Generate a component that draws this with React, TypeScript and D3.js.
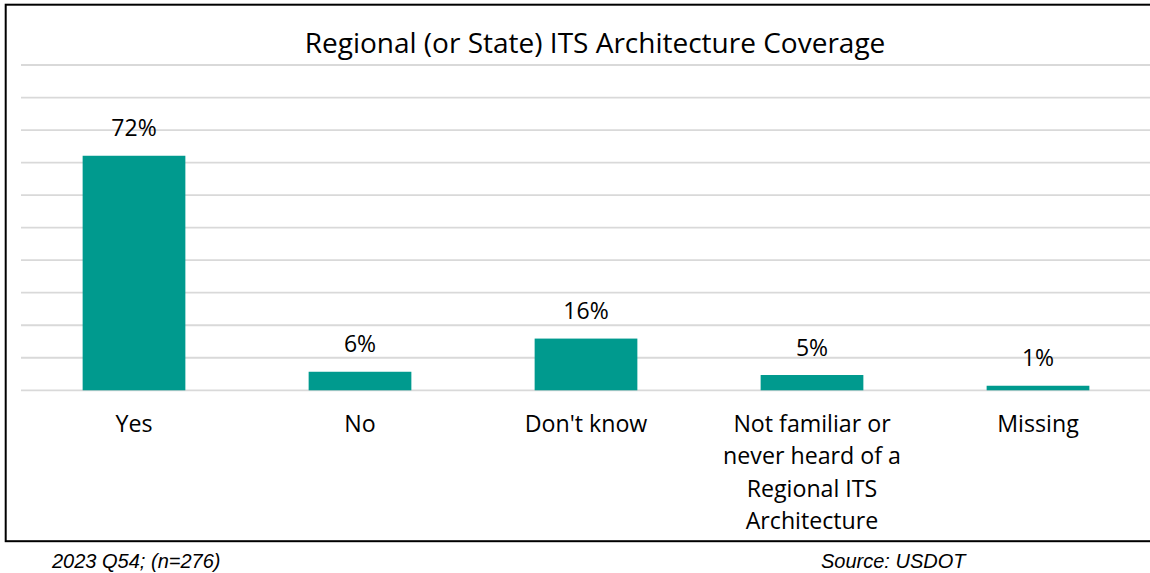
import React from "react";
import * as d3 from "d3";

const categories: string[][] = [
  ["Yes"],
  ["No"],
  ["Don't know"],
  ["Not familiar or", "never heard of a", "Regional ITS", "Architecture"],
  ["Missing"],
];
const categoryKeys = ["Yes", "No", "Don't know", "Not familiar", "Missing"];
const values = [0.721, 0.057, 0.159, 0.047, 0.014];
const labels = ["72%", "6%", "16%", "5%", "1%"];
const yTicks = [0, 0.1, 0.2, 0.3, 0.4, 0.5, 0.6, 0.7, 0.8, 0.9, 1.0];
const title = "Regional (or State) ITS Architecture Coverage";
const noteLeft = "2023 Q54; (n=276)";
const noteRight = "Source: USDOT";

const W = 1150;
const H = 573;
const plotLeft = 21;
const plotRight = 1151;
const plotTop = 65;
const plotBottom = 390.3;

export default function App() {
  const x = d3
    .scaleBand<string>()
    .domain(categoryKeys)
    .range([plotLeft, plotRight])
    .paddingInner(1.2 / 2.2)
    .paddingOuter(0.6 / 2.2);
  const y = d3.scaleLinear().domain([0, 1]).range([plotBottom, plotTop]);
  const font = "'Open Sans', sans-serif";
  const band = (plotRight - plotLeft) / categoryKeys.length;

  return (
    <svg
      width={W}
      height={H}
      style={{ position: "absolute", left: 0, top: 0, background: "#fff" }}
    >
      <rect x={0} y={0} width={W} height={H} fill="#fff" />
      <rect
        x={5.7}
        y={4.7}
        width={1160}
        height={536.5}
        fill="none"
        stroke="#000"
        strokeWidth={2}
      />
      <text
        x={595}
        y={53.3}
        textAnchor="middle"
        fontFamily={font}
        fontSize={28}
        fill="#000"
      >
        {title}
      </text>
      {yTicks.map((t) => (
        <line
          key={t}
          x1={plotLeft}
          x2={W}
          y1={y(t)}
          y2={y(t)}
          stroke="#D9D9D9"
          strokeWidth={1.8}
        />
      ))}
      {categoryKeys.map((k, i) => (
        <g key={k}>
          <rect
            x={x(k)}
            y={y(values[i])}
            width={x.bandwidth()}
            height={plotBottom - y(values[i])}
            fill="#009A8E"
          />
          <text
            x={(x(k) as number) + x.bandwidth() / 2}
            y={y(values[i]) - 19.5}
            textAnchor="middle"
            fontFamily={font}
            fontSize={23}
            fill="#000"
          >
            {labels[i]}
          </text>
          {categories[i].map((line, j) => (
            <text
              key={j}
              x={plotLeft + band * (i + 0.5)}
              y={432 + j * 32.4}
              textAnchor="middle"
              fontFamily={font}
              fontSize={23.2}
              fill="#000"
            >
              {line}
            </text>
          ))}
        </g>
      ))}
      <text
        x={52}
        y={568}
        fontFamily="'Liberation Sans', Arial, sans-serif"
        fontStyle="italic"
        fontSize={20}
        fill="#000"
      >
        {noteLeft}
      </text>
      <text
        x={821}
        y={568}
        fontFamily="'Liberation Sans', Arial, sans-serif"
        fontStyle="italic"
        fontSize={20}
        fill="#000"
      >
        {noteRight}
      </text>
    </svg>
  );
}
